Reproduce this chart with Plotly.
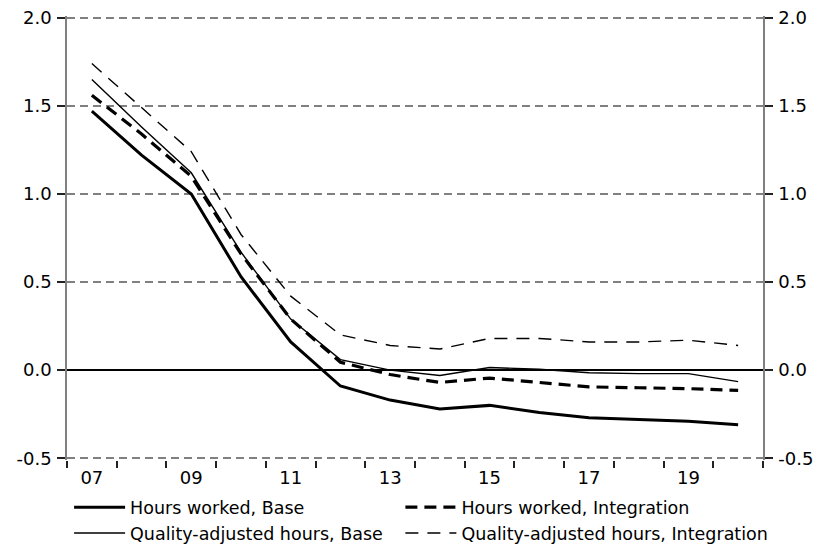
import plotly.graph_objects as go

# Annual contributions, 2007-2020
years = list(range(2007, 2021))

hours_base = [1.47, 1.22, 1.00, 0.53, 0.16, -0.09, -0.17, -0.22, -0.20, -0.24, -0.27, -0.28, -0.29, -0.31]
quality_base = [1.65, 1.38, 1.12, 0.67, 0.29, 0.06, 0.00, -0.03, 0.015, 0.005, -0.015, -0.02, -0.02, -0.065]
hours_integration = [1.56, 1.34, 1.10, 0.66, 0.29, 0.045, -0.025, -0.07, -0.045, -0.07, -0.095, -0.10, -0.105, -0.115]
quality_integration = [1.74, 1.49, 1.24, 0.77, 0.42, 0.20, 0.14, 0.12, 0.18, 0.18, 0.16, 0.16, 0.17, 0.14]

y_ticks = [-0.5, 0.0, 0.5, 1.0, 1.5, 2.0]
y_tick_text = ["-0.5", "0.0", "0.5", "1.0", "1.5", "2.0"]
x_label_years = [2007, 2009, 2011, 2013, 2015, 2017, 2019]
x_label_text = ["07", "09", "11", "13", "15", "17", "19"]

FONT = "DejaVu Sans"
FSIZE = 18
LEGEND_FSIZE = 17.5
GREY = "#808080"

fig = go.Figure()

# Left legend column: Base scenario; right legend column: Integration scenario
fig.add_trace(go.Scatter(x=years, y=hours_base, mode="lines", name="Hours worked, Base",
                         line=dict(color="black", width=3), legend="legend"))
fig.add_trace(go.Scatter(x=years, y=quality_base, mode="lines", name="Quality-adjusted hours, Base",
                         line=dict(color="black", width=1.4), legend="legend"))
fig.add_trace(go.Scatter(x=years, y=hours_integration, mode="lines", name="Hours worked, Integration",
                         line=dict(color="black", width=3.2, dash="12px,7px"), legend="legend2"))
fig.add_trace(go.Scatter(x=years, y=quality_integration, mode="lines", name="Quality-adjusted hours, Integration",
                         line=dict(color="black", width=1.4, dash="13px,9px"), legend="legend2"))

# Helper trace so the secondary axes are drawn
fig.add_trace(go.Scatter(x=[years[0]], y=[0], xaxis="x2", yaxis="y2", mode="markers",
                         marker=dict(opacity=0), showlegend=False, hoverinfo="skip"))

x_range = [years[0] - 0.5, years[-1] + 0.5]
y_range = [-0.51, 2.01]
boundaries = [y - 0.5 for y in years] + [years[-1] + 0.5]

legend_common = dict(
    orientation="v", yanchor="top", xanchor="left", y=-0.066,
    font=dict(family=FONT, size=LEGEND_FSIZE, color="black"),
    tracegroupgap=0, itemwidth=51, bgcolor="rgba(0,0,0,0)", borderwidth=0,
)

fig.update_layout(
    width=821, height=544,
    margin=dict(l=67, r=58, t=16, b=84, autoexpand=False),
    paper_bgcolor="white", plot_bgcolor="white",
    font=dict(family=FONT, size=FSIZE, color="black"),
    showlegend=True,
    legend=dict(x=0.003, **legend_common),
    legend2=dict(x=0.479, **legend_common),
    xaxis=dict(
        range=x_range, tickmode="array", tickvals=x_label_years, ticktext=x_label_text,
        ticks="", showgrid=False, zeroline=False, showline=False, ticklabelstandoff=5,
        tickfont=dict(family=FONT, size=FSIZE, color="black"),
    ),
    xaxis2=dict(
        range=x_range, overlaying="x", side="bottom", tickmode="array", tickvals=boundaries,
        ticks="outside", ticklen=7, tickwidth=1.5, tickcolor="#222222",
        showticklabels=False, showgrid=False, zeroline=False, showline=False,
    ),
    yaxis=dict(
        range=y_range, tickmode="array", tickvals=y_ticks, ticktext=y_tick_text,
        ticks="outside", ticklen=8, tickwidth=1.5, tickcolor="#222222", ticklabelstandoff=2,
        showgrid=True, gridcolor=GREY, gridwidth=1.5, griddash="8px,5px",
        zeroline=True, zerolinecolor="black", zerolinewidth=1.5,
        showline=True, linecolor=GREY, linewidth=1.5,
        tickfont=dict(family=FONT, size=FSIZE, color="black"),
    ),
    yaxis2=dict(
        range=y_range, overlaying="y", side="right", tickmode="array", tickvals=y_ticks,
        ticktext=y_tick_text, ticks="outside", ticklen=8, tickwidth=1.5, tickcolor="#222222",
        ticklabelstandoff=2,
        showgrid=False, zeroline=False, showline=True, linecolor=GREY, linewidth=1.5,
        tickfont=dict(family=FONT, size=FSIZE, color="black"),
    ),
)

fig.write_html("out.html")
